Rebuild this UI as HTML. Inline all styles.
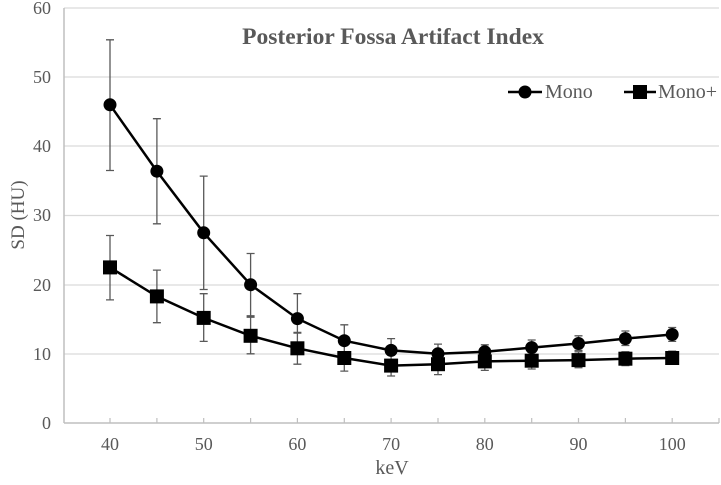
<!DOCTYPE html>
<html><head><style>
body{margin:0;background:#fff}
svg text{font-family:"Liberation Serif",serif;fill:#595959}
</style></head><body>
<svg width="721" height="480" viewBox="0 0 721 480" xmlns="http://www.w3.org/2000/svg">
<g stroke="#d9d9d9" stroke-width="1.2">
<line x1="64" y1="8" x2="719" y2="8"/><line x1="64" y1="77" x2="719" y2="77"/>
<line x1="64" y1="146" x2="719" y2="146"/><line x1="64" y1="215.5" x2="719" y2="215.5"/>
<line x1="64" y1="285" x2="719" y2="285"/><line x1="64" y1="354" x2="719" y2="354"/>
</g>
<g stroke="#bfbfbf" stroke-width="1.5">
<line x1="64" y1="8" x2="64" y2="423"/><line x1="64" y1="423" x2="719" y2="423"/>
</g>
<path stroke="#bfbfbf" stroke-width="1.2" d="M110 418V423M156.9 418V423M203.7 418V423M250.6 418V423M297.4 418V423M344.3 418V423M391.1 418V423M438 418V423M484.8 418V423M531.7 418V423M578.5 418V423M625.4 418V423M672.2 418V423M719 418V423"/>
<g font-size="18" text-anchor="end">
<text x="51" y="14">60</text><text x="51" y="83">50</text><text x="51" y="152">40</text>
<text x="51" y="221">30</text><text x="51" y="291">20</text><text x="51" y="360">10</text><text x="51" y="429">0</text>
</g>
<g font-size="18" text-anchor="middle">
<text x="110" y="450">40</text><text x="203.7" y="450">50</text><text x="297.4" y="450">60</text>
<text x="391.1" y="450">70</text><text x="484.8" y="450">80</text><text x="578.5" y="450">90</text><text x="672.2" y="450">100</text>
<text x="392" y="474" font-size="20">keV</text>
<text x="393" y="44" font-size="23.5" font-weight="bold">Posterior Fossa Artifact Index</text>
</g>
<text transform="translate(24,215) rotate(-90)" font-size="19" text-anchor="middle">SD (HU)</text>
<path stroke="#595959" stroke-width="1.3" fill="none" d="
M110 170.5V39.8M106 170.5H114M106 39.8H114
M156.9 223.8V118.7M152.9 223.8H160.9M152.9 118.7H160.9
M203.7 289.5V176.1M199.7 289.5H207.7M199.7 176.1H207.7
M250.6 315.8V253.5M246.6 315.8H254.6M246.6 253.5H254.6
M297.4 333.1V293.7M293.4 333.1H301.4M293.4 293.7H301.4
M344.3 353.8V324.8M340.3 353.8H348.3M340.3 324.8H348.3
M391.1 360.7V338.6M387.1 360.7H395.1M387.1 338.6H395.1
M438 362.1V344.1M434 362.1H442M434 344.1H442
M484.8 358.7V344.8M480.8 358.7H488.8M480.8 344.8H488.8
M531.7 355.2V340M527.7 355.2H535.7M527.7 340H535.7
M578.5 350.4V335.8M574.5 350.4H582.5M574.5 335.8H582.5
M625.4 345.5V331M621.4 345.5H629.4M621.4 331H629.4
M672.2 341.4V327.5M668.2 341.4H676.2M668.2 327.5H676.2
M110 299.9V235.5M106 299.9H114M106 235.5H114
M156.9 322.7V270.1M152.9 322.7H160.9M152.9 270.1H160.9
M203.7 341.4V293.7M199.7 341.4H207.7M199.7 293.7H207.7
M250.6 353.8V317.2M246.6 353.8H254.6M246.6 317.2H254.6
M297.4 364.2V332.4M293.4 364.2H301.4M293.4 332.4H301.4
M344.3 371.1V344.8M340.3 371.1H348.3M340.3 344.8H348.3
M391.1 376V353.8M387.1 376H395.1M387.1 353.8H395.1
M438 374.6V353.8M434 374.6H442M434 353.8H442
M484.8 370.4V352.4M480.8 370.4H488.8M480.8 352.4H488.8
M531.7 369V351.8M527.7 369H535.7M527.7 351.8H535.7
M578.5 367.7V351.8M574.5 367.7H582.5M574.5 351.8H582.5
M625.4 365.6V351.8M621.4 365.6H629.4M621.4 351.8H629.4
M672.2 364.2V351.1M668.2 364.2H676.2M668.2 351.1H676.2"/>
<polyline fill="none" stroke="#000" stroke-width="2.5" points="110,104.8 156.9,171.2 203.7,232.8 250.6,284.7 297.4,318.6 344.3,340.7 391.1,350.4 438,353.8 484.8,351.8 531.7,347.6 578.5,343.5 625.4,338.6 672.2,334.5"/>
<polyline fill="none" stroke="#000" stroke-width="2.5" points="110,267.4 156.9,296.4 203.7,317.9 250.6,335.8 297.4,348.3 344.3,358 391.1,365.6 438,364.2 484.8,361.4 531.7,360.7 578.5,360.1 625.4,358.7 672.2,358"/>
<g>
<circle cx="110" cy="104.8" r="6.5"/><circle cx="156.9" cy="171.2" r="6.5"/><circle cx="203.7" cy="232.8" r="6.5"/><circle cx="250.6" cy="284.7" r="6.5"/><circle cx="297.4" cy="318.6" r="6.5"/><circle cx="344.3" cy="340.7" r="6.5"/><circle cx="391.1" cy="350.4" r="6.5"/><circle cx="438" cy="353.8" r="6.5"/><circle cx="484.8" cy="351.8" r="6.5"/><circle cx="531.7" cy="347.6" r="6.5"/><circle cx="578.5" cy="343.5" r="6.5"/><circle cx="625.4" cy="338.6" r="6.5"/><circle cx="672.2" cy="334.5" r="6.5"/>
<rect x="103" y="260.4" width="14" height="14"/><rect x="149.9" y="289.4" width="14" height="14"/><rect x="196.7" y="310.9" width="14" height="14"/><rect x="243.6" y="328.8" width="14" height="14"/><rect x="290.4" y="341.3" width="14" height="14"/><rect x="337.3" y="351" width="14" height="14"/><rect x="384.1" y="358.6" width="14" height="14"/><rect x="431" y="357.2" width="14" height="14"/><rect x="477.8" y="354.4" width="14" height="14"/><rect x="524.7" y="353.7" width="14" height="14"/><rect x="571.5" y="353.1" width="14" height="14"/><rect x="618.4" y="351.7" width="14" height="14"/><rect x="665.2" y="351" width="14" height="14"/>
</g>
<g>
<line x1="508" y1="92" x2="542" y2="92" stroke="#000" stroke-width="2.5"/><circle cx="525" cy="92" r="6.5"/>
<text x="545" y="98" font-size="20">Mono</text>
<line x1="624" y1="92" x2="656" y2="92" stroke="#000" stroke-width="2.5"/><rect x="633" y="85" width="14" height="14"/>
<text x="658" y="98" font-size="20">Mono+</text>
</g>
</svg>
</body></html>
